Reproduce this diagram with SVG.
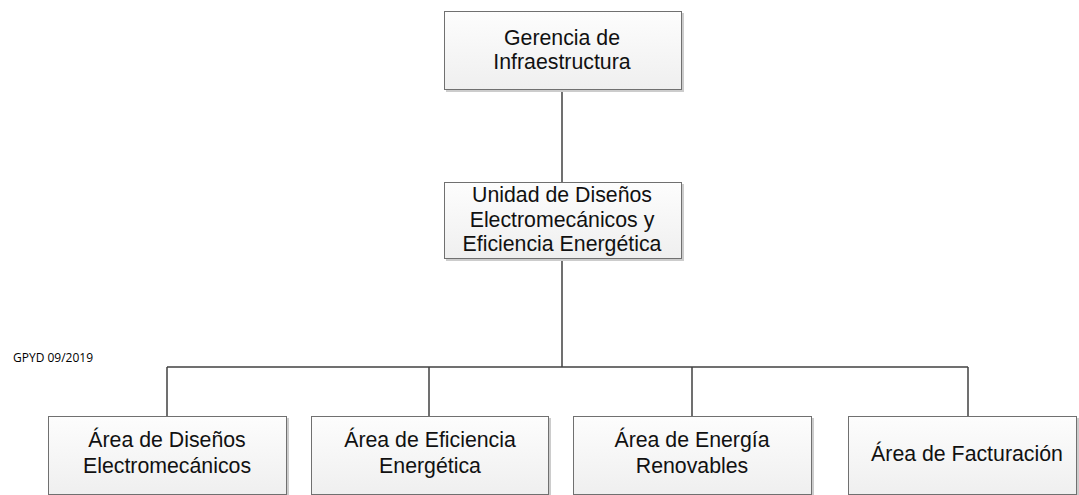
<svg xmlns="http://www.w3.org/2000/svg" width="1079" height="495" viewBox="0 0 1079 495">
<style>
.box{fill:url(#g);stroke:#707070;stroke-width:1}
.sh{fill:none;stroke:#cccccc;stroke-width:2}
.t{font-family:"Liberation Sans",Arial,sans-serif;font-size:21.3px;fill:#111;text-anchor:middle}
.c{fill:none;stroke:#404040;stroke-width:1.5}
.note{font-family:"Open Sans","Liberation Sans",sans-serif;font-size:12px;fill:#000}
</style>
<defs>
<linearGradient id="g" x1="0" y1="0" x2="0" y2="1">
<stop offset="0" stop-color="#fdfdfd"/>
<stop offset="1" stop-color="#efefef"/>
</linearGradient>
</defs>
<rect width="1079" height="495" fill="#fff"/>
<g id="connectors">
<path class="c" d="M562 89V182"/>
<path class="c" d="M562 258V367"/>
<path class="c" d="M167 367H968"/>
<path class="c" d="M167 367V416"/>
<path class="c" d="M429 367V416"/>
<path class="c" d="M692 367V416"/>
<path class="c" d="M968 367V416"/>
</g>
<g id="gerencia">
<path class="sh" d="M683 13V91H446"/>
<rect class="box" x="444.5" y="11.5" width="237" height="78"/>
<text class="t" x="562" y="45">Gerencia de</text>
<text class="t" x="562" y="69">Infraestructura</text>
</g>
<g id="unidad">
<path class="sh" d="M683 184V260H446"/>
<rect class="box" x="444.5" y="182.5" width="237" height="76"/>
<text class="t" x="562" y="202">Unidad de Diseños</text>
<text class="t" x="562" y="226.5">Electromecánicos y</text>
<text class="t" x="562" y="251">Eficiencia Energética</text>
</g>
<g id="area-disenos">
<path class="sh" d="M288 418V495"/>
<rect class="box" x="48.5" y="416.5" width="238" height="78"/>
<text class="t" x="167" y="447">Área de Diseños</text>
<text class="t" x="167" y="473">Electromecánicos</text>
</g>
<g id="area-eficiencia">
<path class="sh" d="M550 418V495"/>
<rect class="box" x="311.5" y="416.5" width="237" height="78"/>
<text class="t" x="430" y="447">Área de Eficiencia</text>
<text class="t" x="430" y="473">Energética</text>
</g>
<g id="area-energia">
<path class="sh" d="M813 418V495"/>
<rect class="box" x="573.5" y="416.5" width="238" height="78"/>
<text class="t" x="692" y="447">Área de Energía</text>
<text class="t" x="692" y="473">Renovables</text>
</g>
<g id="area-facturacion">
<path class="sh" d="M1078 418V495"/>
<rect class="box" x="848.5" y="416.5" width="228" height="78"/>
<text class="t" x="967" y="461">Área de Facturación</text>
</g>
<text class="note" x="13" y="362">GPYD 09/2019</text>
</svg>
